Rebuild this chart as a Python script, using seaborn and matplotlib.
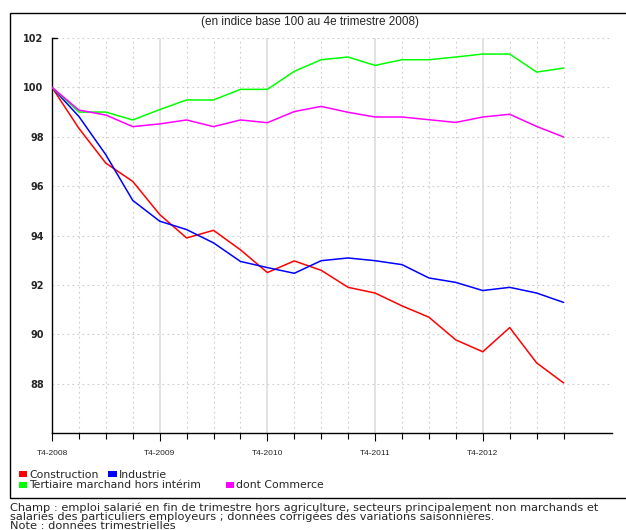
import numpy as np
import pandas as pd
import matplotlib
matplotlib.use("Agg")
import matplotlib.pyplot as plt
import seaborn as sns
from matplotlib.patches import Rectangle, Patch

# ---- data ----
quarters = ["T4-2008", "T1-2009", "T2-2009", "T3-2009", "T4-2009", "T1-2010", "T2-2010",
            "T3-2010", "T4-2010", "T1-2011", "T2-2011", "T3-2011", "T4-2011", "T1-2012",
            "T2-2012", "T3-2012", "T4-2012", "T1-2013", "T2-2013", "T3-2013"]
construction = [100.0, 98.34, 96.93, 96.19, 94.85, 93.90, 94.21, 93.42, 92.50, 92.97,
                92.59, 91.90, 91.67, 91.15, 90.69, 89.77, 89.29, 90.27, 88.84, 88.03]
industrie = [100.0, 98.82, 97.27, 95.42, 94.58, 94.24, 93.70, 92.95, 92.70, 92.47,
             92.98, 93.09, 92.98, 92.82, 92.28, 92.10, 91.77, 91.90, 91.67, 91.29]
tertiaire = [100.0, 99.0, 99.0, 98.68, 99.10, 99.49, 99.49, 99.92, 99.92, 100.65,
             101.12, 101.23, 100.89, 101.12, 101.12, 101.23, 101.35, 101.35, 100.62, 100.78]
commerce = [100.0, 99.08, 98.88, 98.41, 98.52, 98.68, 98.41, 98.68, 98.57, 99.02,
            99.23, 98.99, 98.80, 98.80, 98.69, 98.58, 98.80, 98.91, 98.42, 97.99]
series_names = ["Construction", "Industrie", "Tertiaire marchand hors intérim", "dont Commerce"]
colors = ["#ff0000", "#0000ff", "#00ff00", "#ff00ff"]
year_labels = ["T4-2008", "T4-2009", "T4-2010", "T4-2011", "T4-2012"]
y_ticks = [88, 90, 92, 94, 96, 98, 100, 102]
note_lines = [
    "Champ : emploi salarié en fin de trimestre hors agriculture, secteurs principalement non marchands et",
    "salariés des particuliers employeurs ; données corrigées des variations saisonnières.",
    "Note : données trimestrielles",
]

rows = []
for name, vals in zip(series_names, [construction, industrie, tertiaire, commerce]):
    for i, v in enumerate(vals):
        rows.append({"q": i, "value": v, "serie": name})
df = pd.DataFrame(rows)

sns.set_theme(style="white")
plt.rcParams["font.family"] = ["Liberation Sans", "DejaVu Sans"]

W, H = 626, 530
fig = plt.figure(figsize=(W / 100, H / 100), dpi=100)
ax = fig.add_axes([52 / W, 1 - 433 / H, (612 - 52) / W, (433 - 38) / H])

# grid
for yv in y_ticks:
    ax.axhline(yv, color="#cccccc", lw=0.8, ls=(0, (1.5, 3)), zorder=0)
for i in range(1, len(quarters)):
    if i % 4 == 0:
        ax.axvline(i, color="#dddddd", lw=1.2, ls="-", zorder=0)
    else:
        ax.axvline(i, color="#cccccc", lw=0.8, ls=(0, (1.5, 3)), zorder=0)

sns.lineplot(data=df, x="q", y="value", hue="serie", hue_order=series_names,
             palette=colors, linewidth=1.1, ax=ax, legend=False, zorder=3)

ax.set_xlim(0, 20.8)
ax.set_ylim(86, 102)
ax.set_xlabel("")
ax.set_ylabel("")
for s in ["top", "right"]:
    ax.spines[s].set_visible(False)
for s in ["left", "bottom"]:
    ax.spines[s].set_color("black")
    ax.spines[s].set_linewidth(1.0)

# small tick at top of y axis
ax.plot([0, 0.18], [102, 102], color="black", lw=1.0, clip_on=False, zorder=4)

ax.set_yticks(y_ticks)
ax.set_yticklabels([str(v) for v in y_ticks], fontsize=7, fontweight="bold",
                   family="DejaVu Sans")
ax.tick_params(axis="y", length=0, pad=6)

ax.set_xticks(range(0, 20, 4))
ax.set_xticklabels(year_labels, fontsize=6)
ax.set_xticks(range(0, 20), minor=True)
ax.tick_params(axis="x", which="major", length=6, width=0.8, color="black", pad=6, bottom=True)
ax.tick_params(axis="x", which="minor", length=4, width=0.8, color="black", bottom=True)

# title
fig.text(310 / W, 1 - 22 / H, "(en indice base 100 au 4e trimestre 2008)",
         ha="center", va="center", fontsize=8.5)

# outer frame (right side runs off the picture)
fig.patches.append(Rectangle((10 / W, 1 - 498 / H), (640 - 10) / W, (498 - 13) / H,
                             transform=fig.transFigure, fill=False, edgecolor="black",
                             lw=1.0, zorder=10))

# legends (flow layout)
def mk(c):
    return Patch(facecolor=c, edgecolor="none")

leg_kw = dict(ncol=2, loc="upper left", frameon=False,
              prop={"family": "DejaVu Sans", "size": 7.8},
              handlelength=0.75, handleheight=0.5, handletextpad=0.2,
              borderpad=0, borderaxespad=0)
fig.legend([mk(colors[0]), mk(colors[1])], series_names[:2], columnspacing=0.9,
           bbox_to_anchor=(19 / W, 1 - 470 / H), **leg_kw)
fig.legend([mk(colors[2]), mk(colors[3])], series_names[2:], columnspacing=2.3,
           bbox_to_anchor=(19 / W, 1 - 480.5 / H), **leg_kw)

for k, line in enumerate(note_lines):
    fig.text(10 / W, 1 - (511 + 9 * k) / H, line, ha="left", va="baseline",
             fontsize=8.2, family="DejaVu Sans")

fig.savefig("out.png", dpi=100)
